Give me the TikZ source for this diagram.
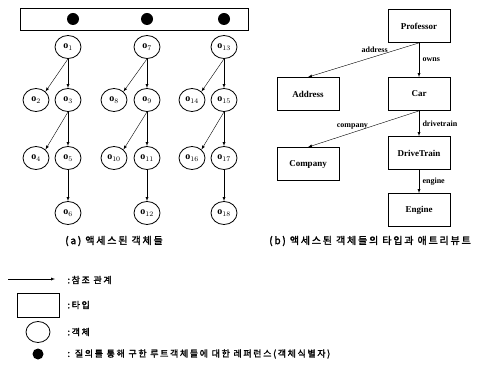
\documentclass[tikz,border=0pt]{standalone}
\usepackage{fontspec}
\setmainfont{Liberation Serif}
\newfontfamily\kr[LetterSpace=18, FakeBold=2]{Noto Sans CJK KR}
\usetikzlibrary{arrows,shapes.geometric,positioning}

\begin{document}
\begin{tikzpicture}[x=1pt, y=-1pt, >=latex,
objnode/.style={ellipse, draw, thick, minimum width=26pt, minimum height=23pt, inner sep=0pt, font=\bfseries},
typenode/.style={rectangle, draw, thick, minimum width=62pt, minimum height=33pt, font=\bfseries\small},
rootdot/.style={circle, fill=black, minimum size=12pt, inner sep=0pt},
attr/.style={font=\bfseries\footnotesize},
krtext/.style={font=\kr\fontsize{10}{12}\selectfont},
legendtext/.style={font=\kr\fontsize{9}{11}\selectfont, anchor=west}
]
    \useasboundingbox (0,0) rectangle (486,371);

    % (a) root bar and the objects
    \node[draw, thick, minimum width=228pt, minimum height=22pt] (bar) at (134,19) {};
    \node[rootdot] (dotA) at (73,19) {};
    \node[rootdot] (dotB) at (147,19) {};
    \node[rootdot] (dotC) at (224,19) {};

    \node[objnode] (o1) at ( 68, 47) {o$_1$};
    \node[objnode] (o2) at ( 36,100) {o$_2$};
    \node[objnode] (o3) at ( 68,100) {o$_3$};
    \node[objnode] (o4) at ( 36,158) {o$_4$};
    \node[objnode] (o5) at ( 68,158) {o$_5$};
    \node[objnode] (o6) at ( 68,213) {o$_6$};

    \node[objnode] (o7)  at (147, 47) {o$_7$};
    \node[objnode] (o8)  at (114,100) {o$_8$};
    \node[objnode] (o9)  at (147,100) {o$_9$};
    \node[objnode] (o10) at (114,158) {o$_{10}$};
    \node[objnode] (o11) at (147,158) {o$_{11}$};
    \node[objnode] (o12) at (147,213) {o$_{12}$};

    \node[objnode] (o13) at (224, 47) {o$_{13}$};
    \node[objnode] (o14) at (192,100) {o$_{14}$};
    \node[objnode] (o15) at (224,100) {o$_{15}$};
    \node[objnode] (o16) at (192,158) {o$_{16}$};
    \node[objnode] (o17) at (224,158) {o$_{17}$};
    \node[objnode] (o18) at (224,213) {o$_{18}$};

    \draw[->] (o1.south) -- (o2.north east);
    \draw[->] (o1.south) -- (o3.north);
    \draw[->] (o3.south) -- (o4.north east);
    \draw[->] (o3.south) -- (o5.north);
    \draw[->] (o5.south) -- (o6.north);

    \draw[->] (o7.south) -- (o8.north east);
    \draw[->] (o7.south) -- (o9.north);
    \draw[->] (o9.south) -- (o10.north east);
    \draw[->] (o9.south) -- (o11.north);
    \draw[->] (o11.south) -- (o12.north);

    \draw[->] (o13.south) -- (o14.north east);
    \draw[->] (o13.south) -- (o15.north);
    \draw[->] (o15.south) -- (o16.north east);
    \draw[->] (o15.south) -- (o17.north);
    \draw[->] (o17.south) -- (o18.north);

    \node[krtext] (capA) at (114,241) {(a) 액세스된 객체들};

    % (b) types and attributes
    \node[typenode] (prof)    at (419, 26) {Professor};
    \node[typenode] (addr)    at (308, 94) {Address};
    \node[typenode] (car)     at (419, 94) {Car};
    \node[typenode] (company) at (308,164) {Company};
    \node[typenode] (drive)   at (419,153) {DriveTrain};
    \node[typenode] (engine)  at (419,210) {Engine};

    \draw[->] (prof.south) -- (addr.north) node[attr, pos=0.4, above] {address};
    \draw[->] (prof.south) -- (car.north) node[attr, midway, right] {owns};
    \draw[->] (car.south) -- (company.north) node[attr, pos=0.6, above] {company};
    \draw[->] (car.south) -- (drive.north) node[attr, midway, right] {drivetrain};
    \draw[->] (drive.south) -- (engine.north) node[attr, midway, right] {engine};

    \node[krtext] (capB) at (370,241) {(b) 액세스된 객체들의 타입과 애트리뷰트};

    % legend
    \coordinate (refL) at (8,279);
    \coordinate (refR) at (55,279);
    \draw[->] (refL) -- (refR);
    \node[legendtext] (txtRef) at (64,280) {:참조 관계};

    \node[draw, thick, minimum width=42pt, minimum height=24pt] (lgType) at (38,305) {};
    \node[legendtext] (txtType) at (64,305) {:타입};

    \node[ellipse, draw, thick, minimum width=24pt, minimum height=21pt] (lgObj) at (38,332) {};
    \node[legendtext] (txtObj) at (64,332) {:객체};

    \node[rootdot, minimum size=11pt] (lgDot) at (38,354) {};
    \node[legendtext] (txtDot) at (64,354) {: 질의를 통해 구한 루트객체들에 대한 레퍼런스(객체식별자)};
\end{tikzpicture}
\end{document}
